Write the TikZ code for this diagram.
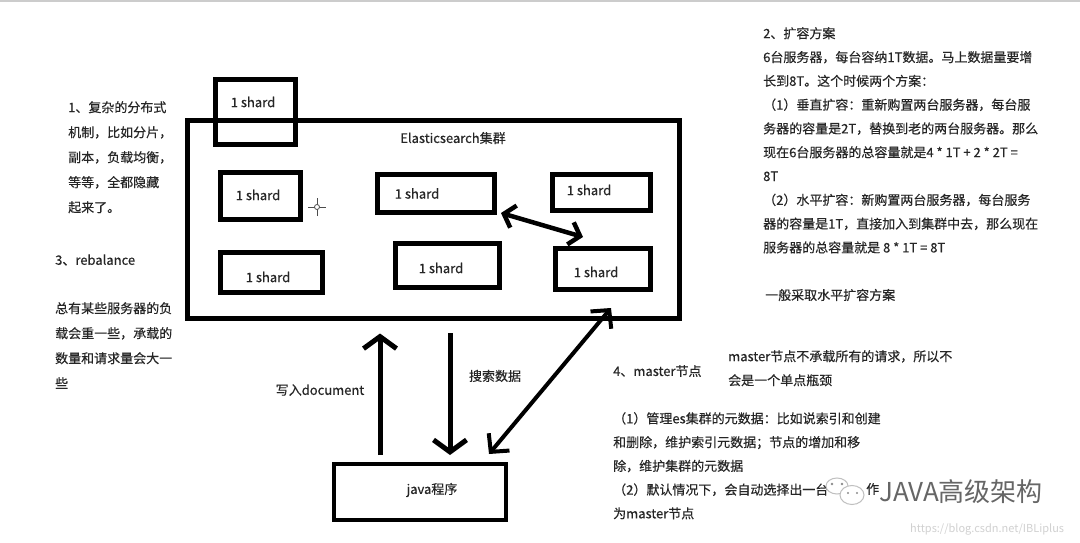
\documentclass[tikz,border=0pt]{standalone}
\usepackage{fontspec}
\setmainfont[FakeBold=0.35]{Noto Sans CJK SC}
\newfontfamily\wmfont{Noto Sans CJK SC}
\usetikzlibrary{arrows.meta}
\begin{document}
\begin{tikzpicture}[x=1pt,y=-1pt,
  txt/.style={font=\fontsize{13}{25}\selectfont, text=black!85, inner sep=0pt, align=left},
  txtr/.style={font=\fontsize{13}{23.8}\selectfont, text=black!85, inner sep=0pt, align=left},
  lbl/.style={font=\fontsize{13}{16}\selectfont, text=black!85, inner sep=0pt},
  box/.style={draw, line width=5pt, inner sep=0pt},
  bigtip/.style={line width=5pt, -{Straight Barb[length=12pt,width=33pt]}},
  dbltip/.style={line width=4pt, {Straight Barb[length=13pt,width=27pt]}-{Straight Barb[length=13pt,width=27pt]}},
  smalltip/.style={line width=4.5pt, {Straight Barb[length=10pt,width=23pt]}-{Straight Barb[length=10pt,width=23pt]}}
  ]
\useasboundingbox (0,0) rectangle (1080,543);
\fill[white] (0,0) rectangle (1080,543);
\draw[black!20, line width=2pt] (0,1) -- (1080,1);

% cluster and shards
\node[box, minimum width=492, minimum height=198] (cluster) at (433.5,219.5) {};
\node[lbl] (title) at (453,138) {Elasticsearch集群};
\node[box, minimum width=80, minimum height=65,
  label={[lbl,xshift=-2.5pt,yshift=10pt]center:1 shard}] (s0) at (255.5,112) {};
\node[box, minimum width=80, minimum height=47,
  label={[lbl,xshift=-2.5pt,yshift=1pt]center:1 shard}] (s1) at (260.5,196) {};
\node[box, minimum width=102, minimum height=40,
  label={[lbl,xshift=-3.5pt,yshift=-4.5pt]center:1 shard}] (s4) at (271.5,272.5) {};
\node[box, minimum width=117, minimum height=38,
  label={[lbl,xshift=-19pt,yshift=0pt]center:1 shard}] (s2) at (436,193.5) {};
\node[box, minimum width=98, minimum height=36,
  label={[lbl,xshift=-12.5pt,yshift=2.5pt]center:1 shard}] (s3) at (601.5,192.5) {};
\node[box, minimum width=104, minimum height=44,
  label={[lbl,xshift=-6.5pt,yshift=-2.5pt]center:1 shard}] (s5) at (447.5,265.5) {};
\node[box, minimum width=95, minimum height=41,
  label={[lbl,xshift=-7pt,yshift=-3pt]center:1 shard}] (s6) at (603,269) {};

% cursor
\coordinate (cur) at (317,207);
\draw[black!70, line width=0.8pt] ([xshift=-9pt]cur) -- ([xshift=9pt]cur)
  ([yshift=-9pt]cur) -- ([yshift=9pt]cur);
\draw[black!70, line width=0.8pt, fill=white] (cur) circle (2.5);

% java box
\node[box, line width=4pt, minimum width=172, minimum height=56,
  label={[lbl,xshift=12pt,yshift=2pt]center:java程序}] (java) at (420,492) {};

% arrows
\coordinate (wx) at (380,0);
\coordinate (sx) at (450,0);
\draw[bigtip, shorten <=7pt, shorten >=12.5pt] (java.north -| wx) -- (cluster.south -| wx);
\draw[bigtip, shorten <=12pt, shorten >=7pt] (cluster.south -| sx) -- (java.north -| sx);
\coordinate (mtop) at (611,308);
\coordinate (mbot) at (489,454);
\draw[dbltip] (mbot) -- (mtop);
\coordinate (ra) at (501,213);
\coordinate (rb) at (583,237);
\draw[smalltip] (ra) -- (rb);

\node[lbl] (wlabel) at (320,390) {写入document};
\node[lbl] (slabel) at (495,376) {搜索数据};

% left texts
\node[txt, anchor=north west] (t1) at (68,101) {1、复杂的分布式\\机制，比如分片，\\副本，负载均衡，\\等等，全都隐藏\\起来了。};
\node[txt, anchor=west] (t3) at (55,260) {3、rebalance};
\node[txt, anchor=north west] (t3b) at (55,302) {总有某些服务器的负\\载会重一些，承载的\\数量和请求量会大一\\些};

% right texts
\node[txtr, anchor=north west] (t2) at (763,27) {2、扩容方案\\6台服务器，每台容纳1T数据。马上数据量要增\\长到8T。这个时候两个方案：\\（1）垂直扩容：重新购置两台服务器，每台服\\务器的容量是2T，替换到老的两台服务器。那么\\现在6台服务器的总容量就是4 * 1T + 2 * 2T =\\8T\\（2）水平扩容：新购置两台服务器，每台服务\\器的容量是1T，直接加入到集群中去，那么现在\\服务器的总容量就是 8 * 1T = 8T};
\node[txt, anchor=west] (t2b) at (765,295) {一般采取水平扩容方案};

% master texts
\node[txt, anchor=west] (t4) at (613,371) {4、master节点};
\node[txtr, anchor=north west, font=\fontsize{13}{24}\selectfont] (t4b) at (728,350) {master节点不承载所有的请求，所以不\\会是一个单点瓶颈};
\node[txtr, anchor=north west, font=\fontsize{13}{23.75}\selectfont] (t4c) at (613,412) {（1）管理es集群的元数据：比如说索引和创建\\和删除，维护索引元数据；节点的增加和移\\除，维护集群的元数据\\（2）默认情况下，会自动选择出一台\\为master节点};
\node[txt, anchor=west] (t4d) at (866,489) {作};

% watermark
\draw[black!25, line width=1pt, fill=white] (837,486) ellipse (11 and 8);
\draw[black!25, line width=1pt, fill=white] (852,495) ellipse (12 and 9.5);
\fill[black!45] (832,484) circle (1.3) (842,484) circle (1.3) (848,493) circle (1.2) (857,493) circle (1.2);
\node[inner sep=0pt, anchor=west, text=black!60, font=\wmfont\fontsize{26}{30}\selectfont] (wm) at (879,492) {JAVA高级架构};
\node[inner sep=0pt, anchor=west, text=black!18, font=\wmfont\fontsize{11}{13}\selectfont] (url) at (910,529) {https://blog.csdn.net/IBLiplus};
\end{tikzpicture}
\end{document}
